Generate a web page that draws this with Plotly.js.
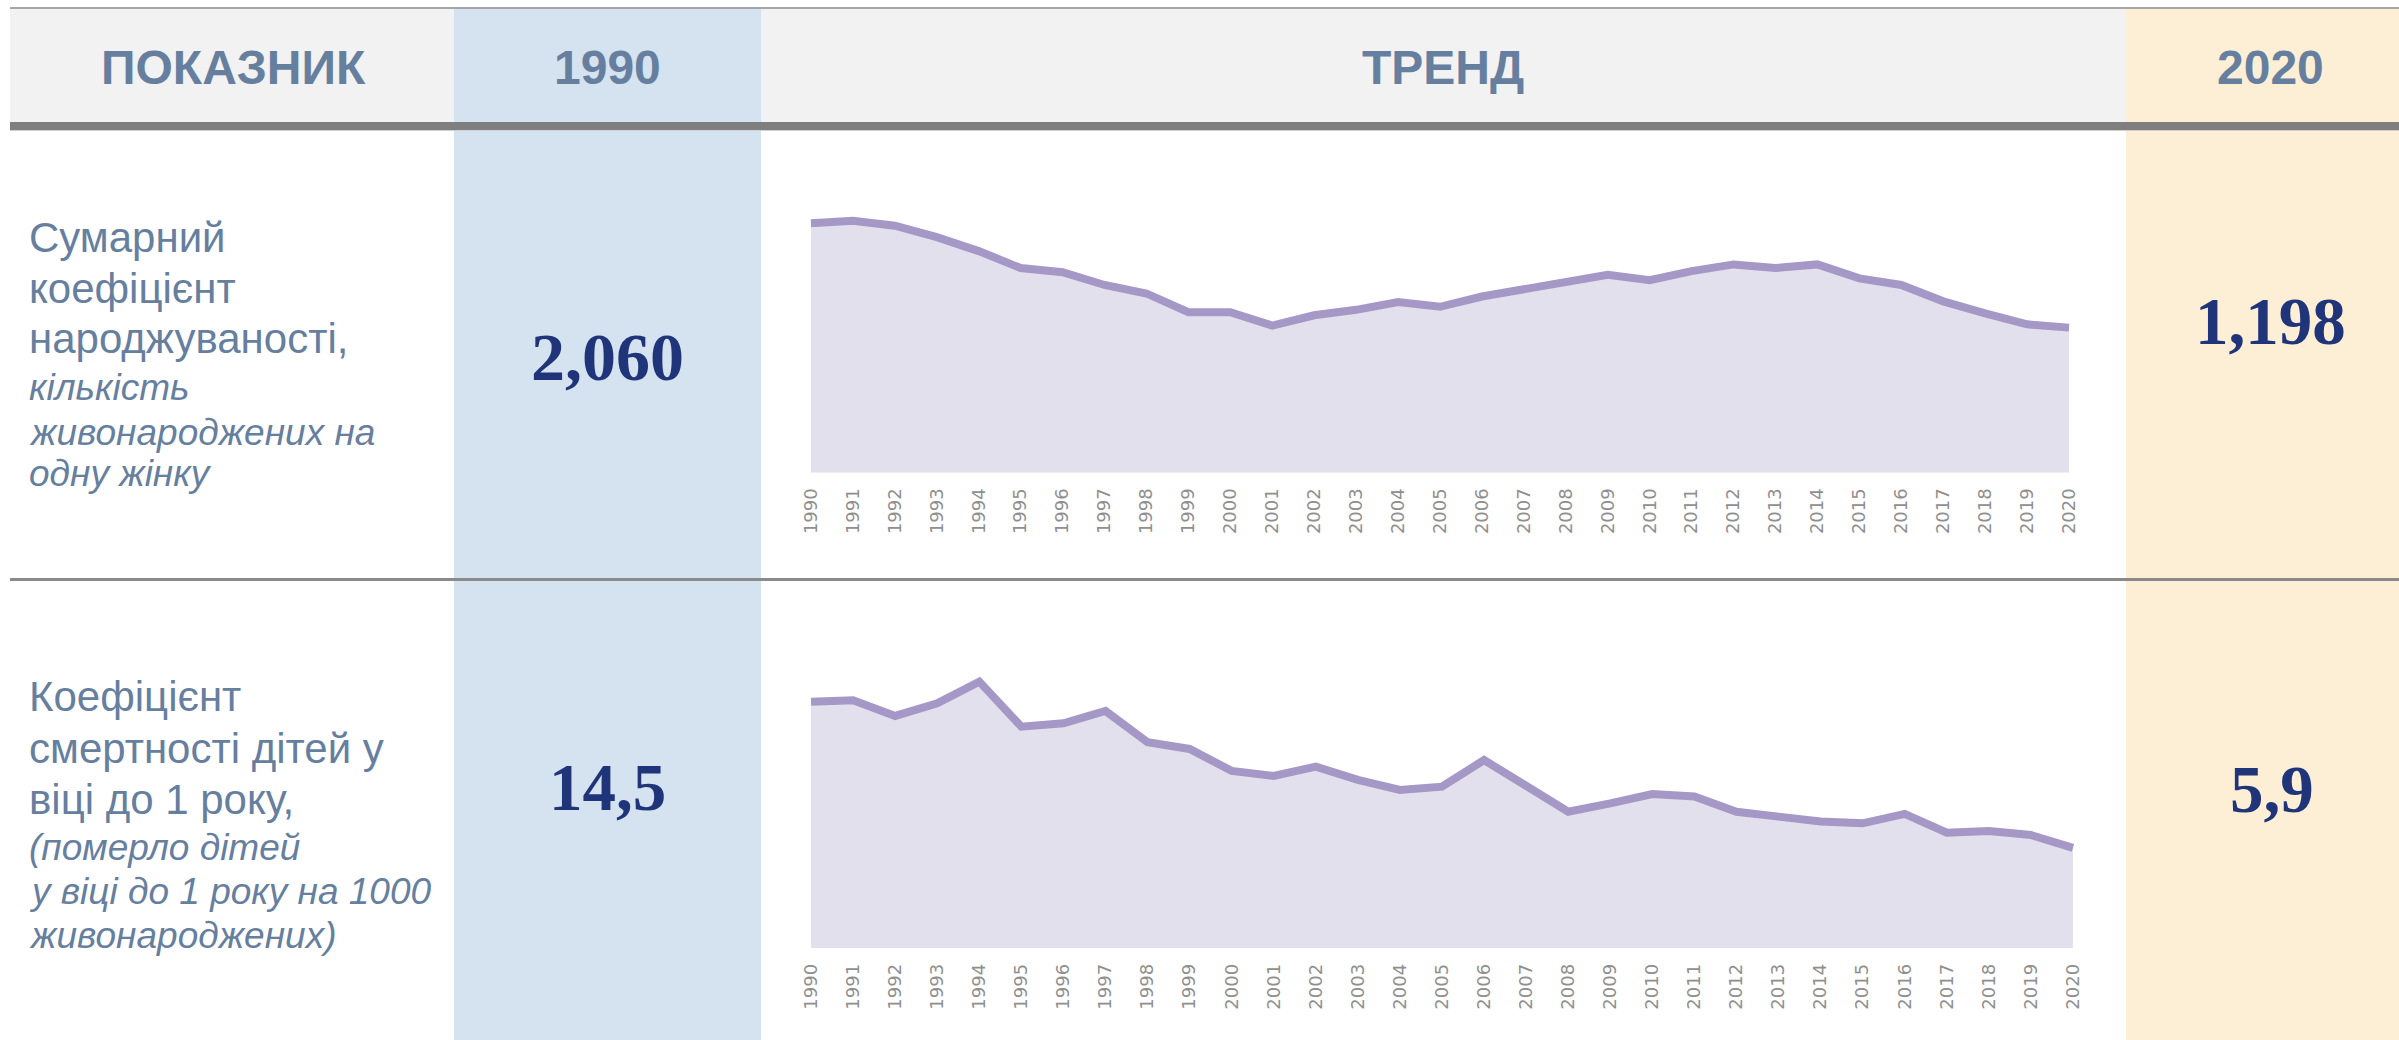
<!DOCTYPE html>
<html>
<head>
<meta charset="utf-8">
<script src="https://cdn.plot.ly/plotly-3.0.1.min.js"></script>
<style>html,body{margin:0;padding:0;background:#fff;}#chart{width:2399px;height:1040px;}</style>
</head>
<body>
<div id="chart"></div>
<script>
// ---- data ----
const years = [1990,1991,1992,1993,1994,1995,1996,1997,1998,1999,2000,2001,2002,2003,2004,2005,2006,2007,2008,2009,2010,2011,2012,2013,2014,2015,2016,2017,2018,2019,2020];
const fertility = [2.060,2.080,2.040,1.945,1.830,1.690,1.655,1.550,1.480,1.325,1.325,1.215,1.300,1.345,1.410,1.370,1.455,1.520,1.580,1.635,1.590,1.665,1.720,1.690,1.720,1.605,1.550,1.415,1.315,1.225,1.198];
const infantMortality = [14.5,14.58,13.66,14.4,15.68,13.03,13.23,13.95,12.11,11.72,10.43,10.13,10.68,9.9,9.31,9.5,11.07,9.6,8.03,8.52,9.07,8.92,8.03,7.74,7.45,7.35,7.9,6.8,6.9,6.66,5.9];
const headers = ["ПОКАЗНИК","1990","ТРЕНД","2020"];
const label1Main = ["Сумарний","коефіцієнт","народжуваності,"];
const label1Note = ["кількість","живонароджених на","одну жінку"];
const label2Main = ["Коефіцієнт","смертності дітей у","віці до 1 року,"];
const label2Note = ["(померло дітей","у віці до 1 року на 1000","живонароджених)"];
const startValues = ["2,060","14,5"];
const endValues = ["1,198","5,9"];

// ---- geometry helpers (pixel -> paper) ----
const W = 2399, H = 1040;
const px = x => x / W;
const py = y => 1 - y / H;

const NARROW = "Liberation Sans Narrow, Arial Narrow, Liberation Sans, Arial, sans-serif";
const SERIF = "Liberation Serif, Times New Roman, serif";
const TXT = "#667f9f";
const NUM = "#1f3479";

function rect(x0, y0, x1, y1, color) {
  return {type: "rect", xref: "paper", yref: "paper", x0: px(x0), x1: px(x1), y0: py(y1), y1: py(y0),
          fillcolor: color, line: {width: 0}, layer: "below"};
}

const shapes = [
  rect(10, 9, W, 122, "#f2f2f2"),
  rect(454, 9, 761, H, "#d5e3f0"),
  rect(2126, 9, W, H, "#fdefd6"),
  rect(10, 7, W, 9, "#a6a6a6"),
  rect(10, 122, W, 130, "#7f7f7f"),
  rect(10, 130, W, 131, "#d0d0d0"),
  rect(10, 578, W, 581, "#8a8a8a")
];

const annotations = [];
function ann(text, x, y, opts) {
  annotations.push(Object.assign({xref: "paper", yref: "paper", x: px(x), y: py(y), text: text,
    showarrow: false, xanchor: "center", yanchor: "middle"}, opts));
}
const headerX = [233, 607, 1443, 2270];
headers.forEach((h, i) => ann("<b>" + h + "</b>", headerX[i], 68,
  {font: {family: NARROW, size: 48, color: TXT}}));

function leftBlock(mainLines, noteLines, ys) {
  mainLines.forEach((t, i) => ann(t, 27, ys[i], {xanchor: "left", font: {family: NARROW, size: 42, color: TXT}}));
  noteLines.forEach((t, i) => ann("<i>" + t + "</i>", 27, ys[i + mainLines.length], {xanchor: "left", font: {family: NARROW, size: 37, color: TXT}}));
}
leftBlock(label1Main, label1Note, [238, 288, 339, 387, 432, 474]);
leftBlock(label2Main, label2Note, [696, 748, 799, 847, 891, 935]);

ann("<b>" + startValues[0] + "</b>", 607, 357, {font: {family: SERIF, size: 68, color: NUM}});
ann("<b>" + startValues[1] + "</b>", 607, 787, {font: {family: SERIF, size: 67, color: NUM}});
ann("<b>" + endValues[0] + "</b>", 2270, 321, {font: {family: SERIF, size: 67, color: NUM}});
ann("<b>" + endValues[1] + "</b>", 2272, 789, {font: {family: SERIF, size: 67, color: NUM}});

const LINE = "#a698c6", FILL = "#e3e0ed";
const traces = [
  {x: years, y: fertility, xaxis: "x", yaxis: "y", type: "scatter", mode: "lines",
   line: {color: LINE, width: 8}, fill: "tozeroy", fillcolor: FILL, hoverinfo: "skip"},
  {x: years, y: infantMortality, xaxis: "x2", yaxis: "y2", type: "scatter", mode: "lines",
   line: {color: LINE, width: 8}, fill: "tozeroy", fillcolor: FILL, hoverinfo: "skip"}
];

function xax(x0, x1) {
  return {domain: [px(x0), px(x1)], range: [1989.5, 2020.5], tickvals: years, ticktext: years.map(String),
    tickangle: -90, showgrid: false, zeroline: false, showline: false, ticks: "", ticklabelstandoff: 11,
    tickfont: {family: "DejaVu Sans, Verdana, sans-serif", size: 18, color: "#8f8f8f"}, fixedrange: true};
}
function yax(top, bottom, max) {
  return {domain: [py(bottom), py(top)], range: [0, max], visible: false, fixedrange: true};
}

const layout = {
  width: W, height: H, margin: {l: 0, r: 0, t: 0, b: 0}, paper_bgcolor: "#ffffff", plot_bgcolor: "rgba(0,0,0,0)",
  showlegend: false,
  xaxis: xax(790, 2090), yaxis: yax(190, 472.7, (472.7 - 190) / 121.1),
  xaxis2: Object.assign(xax(790, 2094), {anchor: "y2"}), yaxis2: Object.assign(yax(630, 948.3, (948.3 - 630) / 17.01), {anchor: "x2"}),
  shapes: shapes, annotations: annotations
};
layout.xaxis.anchor = "y";
layout.yaxis.anchor = "x";

Plotly.newPlot("chart", traces, layout, {staticPlot: true, displayModeBar: false});
</script>
</body>
</html>
